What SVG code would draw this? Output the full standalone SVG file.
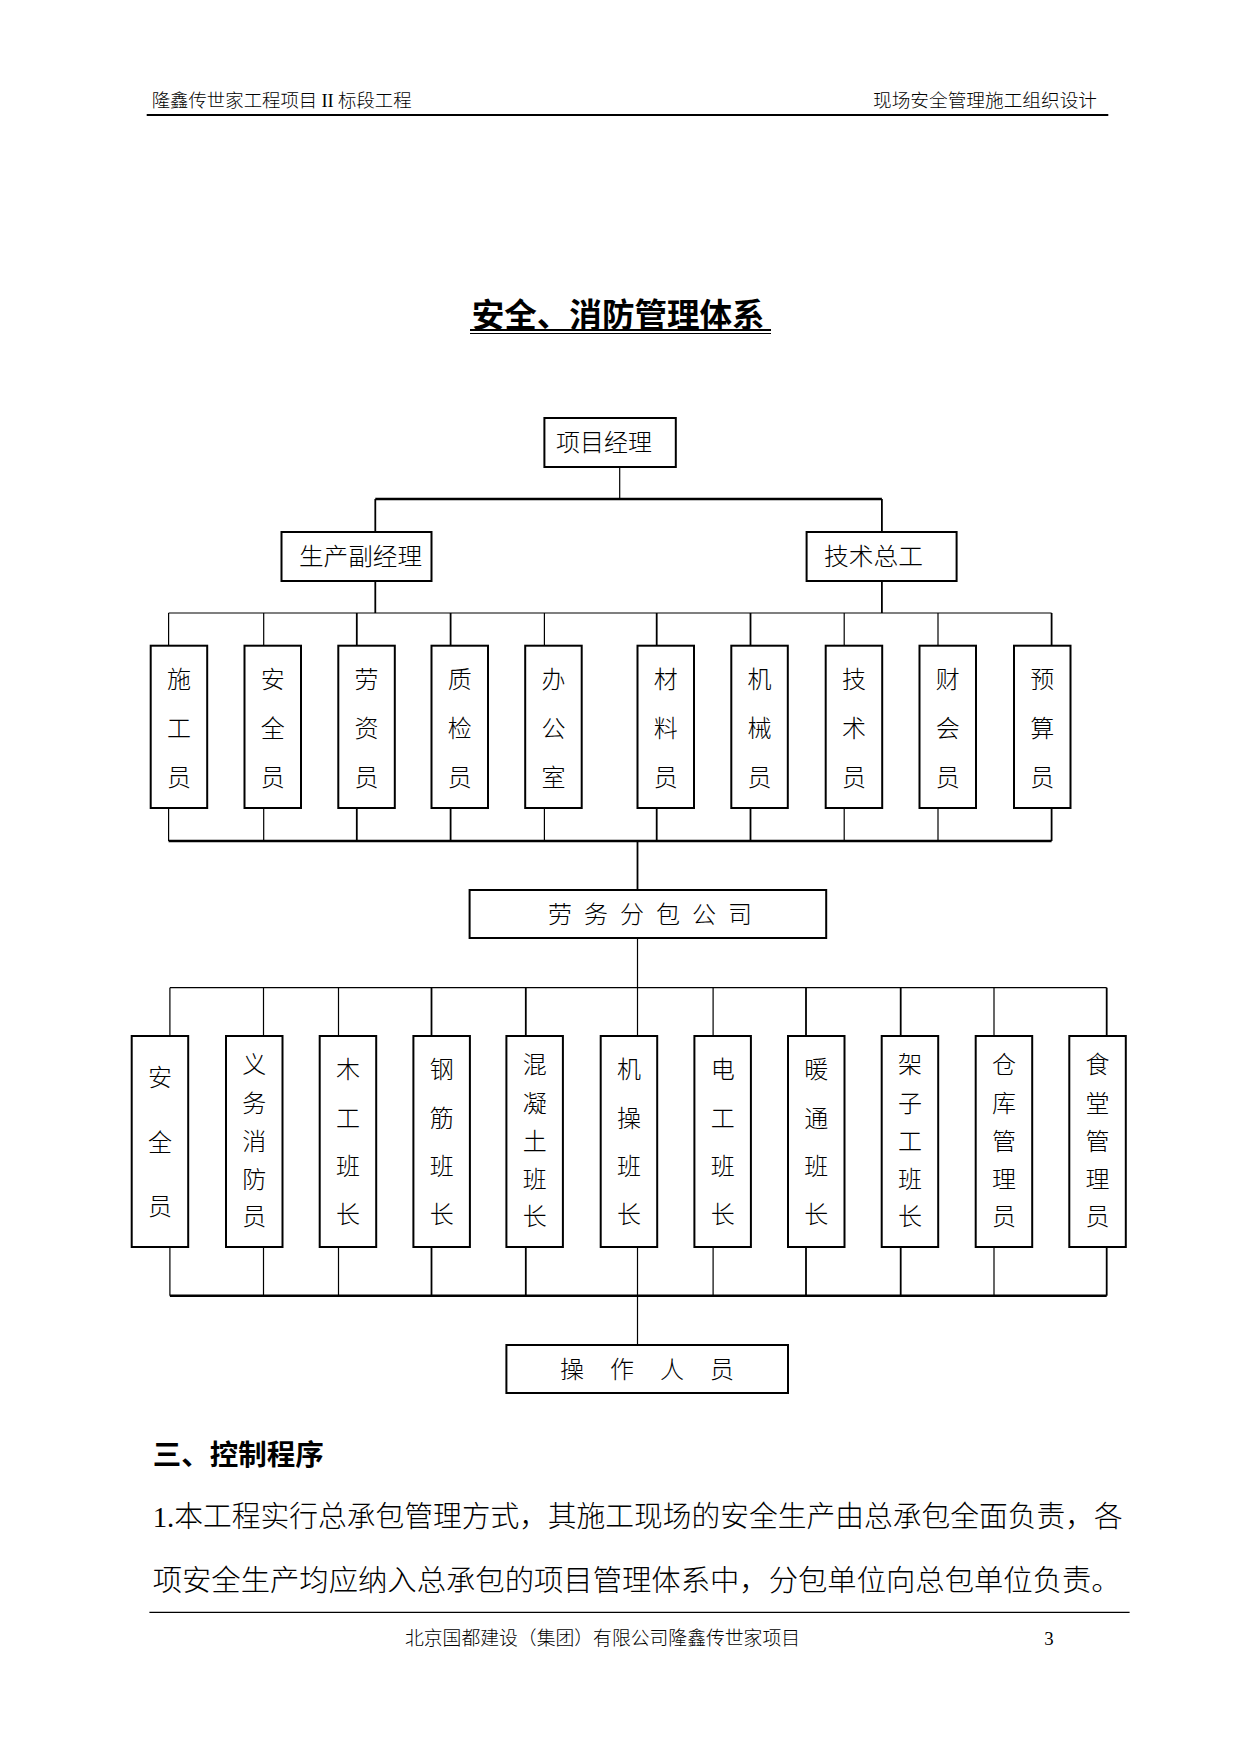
<svg xmlns="http://www.w3.org/2000/svg" width="1241" height="1754" viewBox="0 0 1241 1754">
<style>
  .t { font-family: "Liberation Serif", "Noto Sans CJK SC", serif; fill: #000; font-weight: 300; }
  .h { font-family: "Noto Sans CJK SC", "Liberation Sans", sans-serif; fill: #000; font-weight: 700; }
  .box { fill: #fff; stroke: #000; stroke-width: 2; }
  .node text { font-family: "Liberation Serif", "Noto Sans CJK SC", serif; font-size: 24px; font-weight: 300; fill: #000; dominant-baseline: central; }
  .vt { text-anchor: middle; }
  .c line { stroke: #000; }
  .thin { stroke-width: 1.2; }
  .mid { stroke-width: 1.8; }
  .thick { stroke-width: 2.6; }
</style>
<rect x="0" y="0" width="1241" height="1754" fill="#fff"/>

<!-- header -->
<g id="header">
  <text class="t" y="100.5" font-size="18.4" dominant-baseline="central"><tspan x="151.7">隆鑫传世家工程项目</tspan><tspan x="321.5">II</tspan><tspan x="338">标段工程</tspan></text>
  <text class="t" x="873" y="100.5" font-size="18.6" dominant-baseline="central" textLength="224" lengthAdjust="spacingAndGlyphs">现场安全管理施工组织设计</text>
  <line x1="146.7" y1="115" x2="1108.3" y2="115" stroke="#000" stroke-width="2.2"/>
</g>

<!-- title -->
<g id="title">
  <text class="h" x="471.7" y="312.5" font-size="32.5" dominant-baseline="central" textLength="293" lengthAdjust="spacingAndGlyphs">安全、消防管理体系</text>
  <line x1="470" y1="330" x2="771" y2="330" stroke="#000" stroke-width="2"/>
  <line x1="470" y1="333.5" x2="771" y2="333.5" stroke="#000" stroke-width="1"/>
</g>

<!-- connectors -->
<g id="connectors" class="c">
  <line class="thin" x1="619.7" y1="467" x2="619.7" y2="499"/>
  <line class="thick" x1="375.3" y1="499" x2="881.9" y2="499"/>
  <line class="mid" x1="375.3" y1="499" x2="375.3" y2="532"/>
  <line class="mid" x1="881.9" y1="499" x2="881.9" y2="532"/>
  <line class="mid" x1="375.3" y1="581" x2="375.3" y2="613"/>
  <line class="mid" x1="881.9" y1="581" x2="881.9" y2="613"/>
  <line class="thin" x1="168.6" y1="613" x2="1051.6" y2="613"/>
  <!-- drops to row 1 -->
  <line class="thin" x1="168.6" y1="613" x2="168.6" y2="646"/>
  <line class="thin" x1="263.7" y1="613" x2="263.7" y2="646"/>
  <line class="mid" x1="356.8" y1="613" x2="356.8" y2="646"/>
  <line class="mid" x1="450.6" y1="613" x2="450.6" y2="646"/>
  <line class="thin" x1="544.4" y1="613" x2="544.4" y2="646"/>
  <line class="mid" x1="656.7" y1="613" x2="656.7" y2="646"/>
  <line class="mid" x1="750.5" y1="613" x2="750.5" y2="646"/>
  <line class="thin" x1="844.2" y1="613" x2="844.2" y2="646"/>
  <line class="thin" x1="938" y1="613" x2="938" y2="646"/>
  <line class="mid" x1="1051.6" y1="613" x2="1051.6" y2="646"/>
  <!-- rises from row 1 -->
  <line class="thin" x1="168.6" y1="808" x2="168.6" y2="841"/>
  <line class="thin" x1="263.7" y1="808" x2="263.7" y2="841"/>
  <line class="mid" x1="356.8" y1="808" x2="356.8" y2="841"/>
  <line class="mid" x1="450.6" y1="808" x2="450.6" y2="841"/>
  <line class="thin" x1="544.4" y1="808" x2="544.4" y2="841"/>
  <line class="mid" x1="656.7" y1="808" x2="656.7" y2="841"/>
  <line class="mid" x1="750.5" y1="808" x2="750.5" y2="841"/>
  <line class="thin" x1="844.2" y1="808" x2="844.2" y2="841"/>
  <line class="thin" x1="938" y1="808" x2="938" y2="841"/>
  <line class="mid" x1="1051.6" y1="808" x2="1051.6" y2="841"/>
  <line class="thick" x1="168.6" y1="841" x2="1051.6" y2="841"/>
  <line class="mid" x1="637.5" y1="841" x2="637.5" y2="890"/>
  <line class="thin" x1="637.5" y1="938" x2="637.5" y2="987.7"/>
  <line class="thin" x1="169.9" y1="987.7" x2="1106.7" y2="987.7"/>
  <!-- drops to row 2 -->
  <line class="thin" x1="169.9" y1="987.7" x2="169.9" y2="1036"/>
  <line class="thin" x1="263.5" y1="987.7" x2="263.5" y2="1036"/>
  <line class="thin" x1="338.5" y1="987.7" x2="338.5" y2="1036"/>
  <line class="mid" x1="431.5" y1="987.7" x2="431.5" y2="1036"/>
  <line class="mid" x1="525.8" y1="987.7" x2="525.8" y2="1036"/>
  <line class="thin" x1="637.5" y1="987.7" x2="637.5" y2="1036"/>
  <line class="thin" x1="713.1" y1="987.7" x2="713.1" y2="1036"/>
  <line class="mid" x1="806" y1="987.7" x2="806" y2="1036"/>
  <line class="mid" x1="900.7" y1="987.7" x2="900.7" y2="1036"/>
  <line class="thin" x1="994" y1="987.7" x2="994" y2="1036"/>
  <line class="mid" x1="1106.7" y1="987.7" x2="1106.7" y2="1036"/>
  <!-- rises from row 2 -->
  <line class="thin" x1="169.9" y1="1247" x2="169.9" y2="1295.7"/>
  <line class="thin" x1="263.5" y1="1247" x2="263.5" y2="1295.7"/>
  <line class="thin" x1="338.5" y1="1247" x2="338.5" y2="1295.7"/>
  <line class="mid" x1="431.5" y1="1247" x2="431.5" y2="1295.7"/>
  <line class="mid" x1="525.8" y1="1247" x2="525.8" y2="1295.7"/>
  <line class="thin" x1="637.5" y1="1247" x2="637.5" y2="1295.7"/>
  <line class="thin" x1="713.1" y1="1247" x2="713.1" y2="1295.7"/>
  <line class="mid" x1="806" y1="1247" x2="806" y2="1295.7"/>
  <line class="mid" x1="900.7" y1="1247" x2="900.7" y2="1295.7"/>
  <line class="thin" x1="994" y1="1247" x2="994" y2="1295.7"/>
  <line class="mid" x1="1106.7" y1="1247" x2="1106.7" y2="1295.7"/>
  <line class="thick" x1="169.9" y1="1295.7" x2="1106.7" y2="1295.7"/>
  <line class="thin" x1="637.5" y1="1295.7" x2="637.5" y2="1345"/>
</g>

<!-- level 0 / 1 -->
<g id="n-xmjl" class="node">
  <rect class="box" x="544.4" y="418" width="131.4" height="49"/>
  <text x="556" y="443" textLength="96" lengthAdjust="spacingAndGlyphs">项目经理</text>
</g>
<g id="n-scfjl" class="node">
  <rect class="box" x="281.5" y="532" width="150" height="49" stroke-width="2.6"/>
  <text x="299" y="557" textLength="123" lengthAdjust="spacingAndGlyphs">生产副经理</text>
</g>
<g id="n-jszg" class="node">
  <rect class="box" x="806.6" y="532" width="150" height="49" stroke-width="2.6"/>
  <text x="824" y="557" textLength="99" lengthAdjust="spacingAndGlyphs">技术总工</text>
</g>

<!-- row 1 -->
<g id="n-sgy" class="node"><rect class="box" x="150.7" y="645.7" width="56.5" height="162.3"/>
  <text class="vt" x="179" y="680">施</text><text class="vt" x="179" y="729">工</text><text class="vt" x="179" y="778">员</text></g>
<g id="n-aqy1" class="node"><rect class="box" x="244.5" y="645.7" width="56.5" height="162.3"/>
  <text class="vt" x="272.8" y="680">安</text><text class="vt" x="272.8" y="729">全</text><text class="vt" x="272.8" y="778">员</text></g>
<g id="n-lzy" class="node"><rect class="box" x="338.3" y="645.7" width="56.5" height="162.3"/>
  <text class="vt" x="366.6" y="680">劳</text><text class="vt" x="366.6" y="729">资</text><text class="vt" x="366.6" y="778">员</text></g>
<g id="n-zjy" class="node"><rect class="box" x="431.5" y="645.7" width="56.5" height="162.3"/>
  <text class="vt" x="459.8" y="680">质</text><text class="vt" x="459.8" y="729">检</text><text class="vt" x="459.8" y="778">员</text></g>
<g id="n-bgs" class="node"><rect class="box" x="525.2" y="645.7" width="56.5" height="162.3"/>
  <text class="vt" x="553.5" y="680">办</text><text class="vt" x="553.5" y="729">公</text><text class="vt" x="553.5" y="778">室</text></g>
<g id="n-cly" class="node"><rect class="box" x="637.5" y="645.7" width="56.5" height="162.3"/>
  <text class="vt" x="665.8" y="680">材</text><text class="vt" x="665.8" y="729">料</text><text class="vt" x="665.8" y="778">员</text></g>
<g id="n-jxy" class="node"><rect class="box" x="731.3" y="645.7" width="56.5" height="162.3"/>
  <text class="vt" x="759.6" y="680">机</text><text class="vt" x="759.6" y="729">械</text><text class="vt" x="759.6" y="778">员</text></g>
<g id="n-jsy" class="node"><rect class="box" x="825.7" y="645.7" width="56.5" height="162.3"/>
  <text class="vt" x="854" y="680">技</text><text class="vt" x="854" y="729">术</text><text class="vt" x="854" y="778">员</text></g>
<g id="n-cky" class="node"><rect class="box" x="919.5" y="645.7" width="56.5" height="162.3"/>
  <text class="vt" x="947.8" y="680">财</text><text class="vt" x="947.8" y="729">会</text><text class="vt" x="947.8" y="778">员</text></g>
<g id="n-ysy" class="node"><rect class="box" x="1014" y="645.7" width="56.5" height="162.3"/>
  <text class="vt" x="1042.3" y="680">预</text><text class="vt" x="1042.3" y="729">算</text><text class="vt" x="1042.3" y="778">员</text></g>

<!-- subcontractor -->
<g id="n-lwfb" class="node">
  <rect class="box" x="469.6" y="890" width="356.6" height="48"/>
  <text x="548" y="915" letter-spacing="12">劳务分包公司</text>
</g>

<!-- row 2 -->
<g id="n-aqy2" class="node"><rect class="box" x="131.7" y="1036" width="56.5" height="211"/>
  <text class="vt" x="160" y="1078">安</text><text class="vt" x="160" y="1143">全</text><text class="vt" x="160" y="1207">员</text></g>
<g id="n-ywxfy" class="node"><rect class="box" x="226" y="1036" width="56.5" height="211"/>
  <text class="vt" x="254.3" y="1065">义</text><text class="vt" x="254.3" y="1104">务</text><text class="vt" x="254.3" y="1142">消</text><text class="vt" x="254.3" y="1180">防</text><text class="vt" x="254.3" y="1217">员</text></g>
<g id="n-mgbz" class="node"><rect class="box" x="319.7" y="1036" width="56.5" height="211"/>
  <text class="vt" x="348" y="1070">木</text><text class="vt" x="348" y="1118.5">工</text><text class="vt" x="348" y="1167">班</text><text class="vt" x="348" y="1215">长</text></g>
<g id="n-gjbz" class="node"><rect class="box" x="413.4" y="1036" width="56.5" height="211"/>
  <text class="vt" x="441.7" y="1070">钢</text><text class="vt" x="441.7" y="1118.5">筋</text><text class="vt" x="441.7" y="1167">班</text><text class="vt" x="441.7" y="1215">长</text></g>
<g id="n-hntbz" class="node"><rect class="box" x="506.4" y="1036" width="56.5" height="211"/>
  <text class="vt" x="534.7" y="1065">混</text><text class="vt" x="534.7" y="1104">凝</text><text class="vt" x="534.7" y="1142">土</text><text class="vt" x="534.7" y="1180">班</text><text class="vt" x="534.7" y="1217">长</text></g>
<g id="n-jcbz" class="node"><rect class="box" x="600.7" y="1036" width="56.5" height="211"/>
  <text class="vt" x="629" y="1070">机</text><text class="vt" x="629" y="1118.5">操</text><text class="vt" x="629" y="1167">班</text><text class="vt" x="629" y="1215">长</text></g>
<g id="n-dgbz" class="node"><rect class="box" x="694.4" y="1036" width="56.5" height="211"/>
  <text class="vt" x="722.7" y="1070">电</text><text class="vt" x="722.7" y="1118.5">工</text><text class="vt" x="722.7" y="1167">班</text><text class="vt" x="722.7" y="1215">长</text></g>
<g id="n-ntbz" class="node"><rect class="box" x="788" y="1036" width="56.5" height="211"/>
  <text class="vt" x="816.3" y="1070">暖</text><text class="vt" x="816.3" y="1118.5">通</text><text class="vt" x="816.3" y="1167">班</text><text class="vt" x="816.3" y="1215">长</text></g>
<g id="n-jzgbz" class="node"><rect class="box" x="881.7" y="1036" width="56.5" height="211"/>
  <text class="vt" x="910" y="1065">架</text><text class="vt" x="910" y="1104">子</text><text class="vt" x="910" y="1142">工</text><text class="vt" x="910" y="1180">班</text><text class="vt" x="910" y="1217">长</text></g>
<g id="n-ckgly" class="node"><rect class="box" x="975.7" y="1036" width="56.5" height="211"/>
  <text class="vt" x="1004" y="1065">仓</text><text class="vt" x="1004" y="1104">库</text><text class="vt" x="1004" y="1142">管</text><text class="vt" x="1004" y="1180">理</text><text class="vt" x="1004" y="1217">员</text></g>
<g id="n-stgly" class="node"><rect class="box" x="1069.3" y="1036" width="56.5" height="211"/>
  <text class="vt" x="1097.6" y="1065">食</text><text class="vt" x="1097.6" y="1104">堂</text><text class="vt" x="1097.6" y="1142">管</text><text class="vt" x="1097.6" y="1180">理</text><text class="vt" x="1097.6" y="1217">员</text></g>

<!-- operators -->
<g id="n-czry" class="node">
  <rect class="box" x="506.4" y="1345" width="281.6" height="48"/>
  <text x="560" y="1370" letter-spacing="26">操作人员</text>
</g>

<!-- body text -->
<g id="body">
  <text class="h" x="152.7" y="1452" font-size="28.5" dominant-baseline="central" textLength="171" lengthAdjust="spacingAndGlyphs">三、控制程序</text>
  <text class="t" x="152.7" y="1517" font-size="29" dominant-baseline="central" textLength="970" lengthAdjust="spacingAndGlyphs">1.本工程实行总承包管理方式，其施工现场的安全生产由总承包全面负责，各</text>
  <text class="t" x="152.7" y="1581" font-size="29" dominant-baseline="central" textLength="968" lengthAdjust="spacingAndGlyphs">项安全生产均应纳入总承包的项目管理体系中，分包单位向总包单位负责。</text>
</g>

<!-- footer -->
<g id="footer">
  <line x1="149.4" y1="1612.3" x2="1129.6" y2="1612.3" stroke="#000" stroke-width="1.2"/>
  <text class="t" x="405" y="1638" font-size="18.8" dominant-baseline="central" textLength="395" lengthAdjust="spacingAndGlyphs">北京国都建设（集团）有限公司隆鑫传世家项目</text>
  <text class="t" x="1049" y="1638" font-size="18.8" dominant-baseline="central" text-anchor="middle">3</text>
</g>
</svg>
